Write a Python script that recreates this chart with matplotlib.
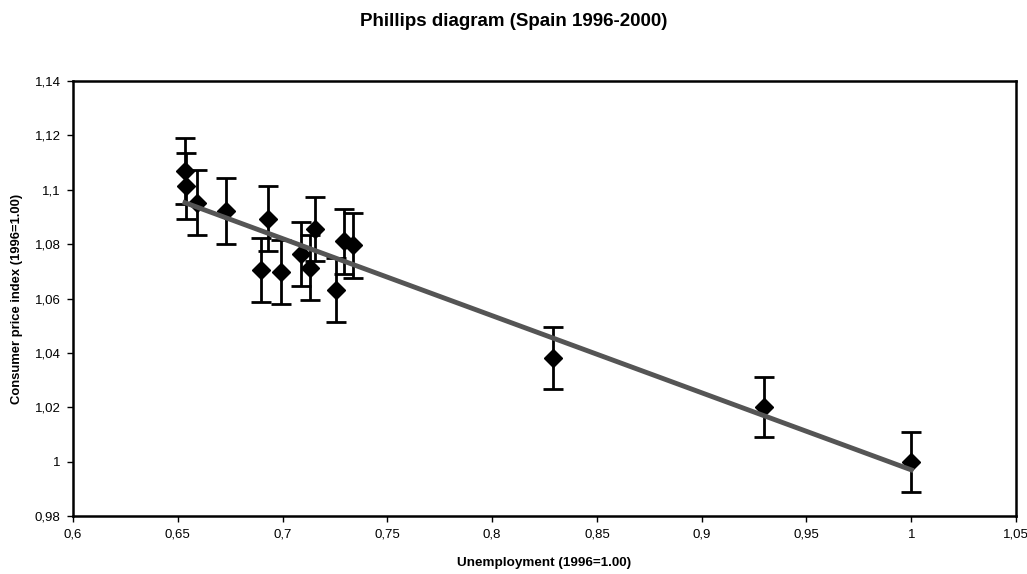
import numpy as np
import matplotlib
matplotlib.use("Agg")
import matplotlib.pyplot as plt
from matplotlib.ticker import FuncFormatter

plt.rcParams['font.family'] = ['Liberation Sans', 'DejaVu Sans']

# unemployment index vs consumer price index, Spain 1996-2000
unemp = [0.6534, 0.6540, 0.6592, 0.6730, 0.6897, 0.6930, 0.6993, 0.7088,
         0.7131, 0.7155, 0.7255, 0.7293, 0.7336, 0.8290, 0.9297, 1.0000]
cpi = [1.1068, 1.1014, 1.0953, 1.0922, 1.0705, 1.0894, 1.0697, 1.0765,
       1.0714, 1.0856, 1.0631, 1.0810, 1.0796, 1.0381, 1.0201, 1.0000]
cpi_err = [0.0122, 0.0121, 0.0120, 0.0120, 0.0118, 0.0120, 0.0118, 0.0118,
           0.0118, 0.0119, 0.0117, 0.0119, 0.0119, 0.0114, 0.0112, 0.0110]

fig = plt.figure(figsize=(10.27, 5.74), dpi=100)
ax = fig.add_axes([0.0711, 0.101, 0.9182, 0.7579])

ax.errorbar(unemp, cpi, yerr=cpi_err, fmt='D', color='black', ms=9.5,
            ecolor='black', elinewidth=2, capsize=7, capthick=2, zorder=3)

coef = np.polyfit(unemp, cpi, 1)
xl = np.array([min(unemp), max(unemp)])
ax.plot(xl, np.polyval(coef, xl), color='#555555', lw=3.5, zorder=4)

ax.set_xlim(0.6, 1.05)
ax.set_ylim(0.98, 1.14)
ax.set_xticks(np.arange(0.6, 1.0501, 0.05))
ax.set_yticks(np.arange(0.98, 1.1401, 0.02))
fmt = FuncFormatter(lambda v, p: ('%.2f' % v).rstrip('0').rstrip('.').replace('.', ','))
ax.xaxis.set_major_formatter(fmt)
ax.yaxis.set_major_formatter(fmt)
ax.tick_params(direction='out', length=4, width=1, labelsize=9.5, pad=5)
for s in ax.spines.values():
    s.set_linewidth(1.8)

ax.set_xlabel('Unemployment (1996=1.00)', fontsize=9.7, fontweight='bold', labelpad=12)
ax.set_ylabel('Consumer price index (1996=1.00)', fontsize=9.4, fontweight='bold', labelpad=8)
fig.suptitle('Phillips diagram (Spain 1996-2000)', fontsize=13.5, fontweight='bold', y=0.978)

fig.savefig('out.png', dpi=100)
